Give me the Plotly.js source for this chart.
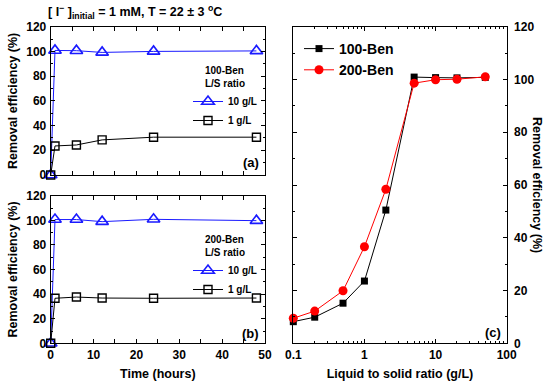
<!DOCTYPE html>
<html><head><meta charset="utf-8">
<script src="https://cdn.plot.ly/plotly-3.0.1.min.js"></script>
<style>body{margin:0}#chart{width:550px;height:387px}</style>
</head><body><div id="chart"></div>
<script>
// Panel (a) and (b): time series
const timeHours = [0, 1, 6, 12, 24, 48];
const a_10gL = [0, 100.8, 100.6, 99.2, 100.0, 100.4];
const a_1gL  = [0, 23.5, 24.3, 28.4, 30.6, 30.6];
const b_10gL = [0, 100.6, 100.6, 98.9, 100.8, 99.7];
const b_1gL  = [0, 36.6, 37.6, 36.8, 36.6, 36.8];
// Panel (c): L/S ratio
const lsRatio = [0.1, 0.2, 0.5, 1, 2, 5, 10, 20, 50];
const ben100 = [8.2, 9.9, 15.2, 23.6, 50.5, 100.9, 100.7, 100.6, 100.8];
const ben200 = [9.5, 12.2, 19.9, 36.6, 58.4, 98.6, 99.9, 100.1, 101.0];
const logTickVals = [0.1, 1, 10, 100];
const logTickText = ['0.1', '1', '10', '100'];

const FONT = 'Liberation Sans, Arial, sans-serif';
const BLUE = '#1a1aff';

function tr(x, y, name, xa, ya, legend, symbol, color, size, lw) {
  return {
    x: x, y: y, name: name, xaxis: xa, yaxis: ya, legend: legend,
    mode: 'lines+markers', cliponaxis: false,
    line: {color: color, width: 1},
    marker: {symbol: symbol, size: size, color: color, line: {color: color, width: lw}}
  };
}

const data = [
  tr(timeHours, a_10gL, '10 g/L', 'x', 'y', 'legend', 'triangle-up-open', BLUE, 11, 1.6),
  tr(timeHours, a_1gL, '1 g/L', 'x', 'y', 'legend', 'square-open', '#000', 8, 1.4),
  tr(timeHours, b_10gL, '10 g/L', 'x2', 'y2', 'legend2', 'triangle-up-open', BLUE, 11, 1.6),
  tr(timeHours, b_1gL, '1 g/L', 'x2', 'y2', 'legend2', 'square-open', '#000', 8, 1.4),
  tr(lsRatio, ben100, '100-Ben', 'x3', 'y3', 'legend3', 'square', '#000', 7, 0),
  tr(lsRatio, ben200, '200-Ben', 'x3', 'y3', 'legend3', 'circle', '#ff0000', 9, 0)
];

const tickFont = {family: FONT, size: 12, weight: 'bold', color: '#000'};
const titleFont = {family: FONT, size: 12.5, weight: 'bold', color: '#000'};
function baseAxis(extra) {
  return Object.assign({
    showline: true, linecolor: '#000', linewidth: 1, mirror: 'ticks',
    ticks: 'inside', ticklen: 4, tickwidth: 1, tickcolor: '#000',
    showgrid: false, zeroline: false, tickfont: tickFont, fixedrange: true
  }, extra);
}
const py = v => 1 - v / 387;
const px = v => v / 550;

const layout = {
  width: 550, height: 387,
  margin: {l: 0, r: 0, t: 0, b: 0},
  paper_bgcolor: '#fff', plot_bgcolor: '#fff',
  font: {family: FONT, color: '#000'},
  showlegend: true,
  xaxis: baseAxis({domain: [px(50.7), px(265)], anchor: 'y', range: [0, 50], dtick: 10,
    showticklabels: false, minor: {dtick: 5, ticks: 'inside', ticklen: 4}}),
  yaxis: baseAxis({domain: [py(175), py(26.7)], anchor: 'x', range: [0, 120], dtick: 20,
    ticklabelstandoff: 1, minor: {dtick: 10, ticks: 'inside', ticklen: 2},
    title: {text: 'Removal efficiency (%)', font: titleFont, standoff: 5}}),
  xaxis2: baseAxis({domain: [px(50.7), px(265)], anchor: 'y2', range: [0, 50], dtick: 10,
    minor: {dtick: 5, ticks: 'inside', ticklen: 4},
    title: {text: 'Time (hours)', font: titleFont, standoff: 8}}),
  yaxis2: baseAxis({domain: [py(343.3), py(195.7)], anchor: 'x2', range: [0, 120], dtick: 20,
    ticklabelstandoff: 1, minor: {dtick: 10, ticks: 'inside', ticklen: 2},
    title: {text: 'Removal efficiency (%)', font: titleFont, standoff: 5}}),
  xaxis3: baseAxis({domain: [px(293.3), px(506.7)], anchor: 'y3', type: 'log', range: [-1, 2],
    tickvals: logTickVals, ticktext: logTickText,
    minor: {ticks: 'inside', ticklen: 2, dtick: 'D1'},
    title: {text: 'Liquid to solid ratio (g/L)', font: titleFont, standoff: 8}}),
  yaxis3: baseAxis({domain: [py(343.3), py(26.7)], anchor: 'x3', side: 'right', range: [0, 120], dtick: 20,
    ticklabelstandoff: 4, minor: {dtick: 10, ticks: 'inside', ticklen: 2}}),
  legend: {x: px(262), y: py(61), xanchor: 'right', yanchor: 'top', bgcolor: 'rgba(0,0,0,0)',
    font: {family: FONT, size: 10, weight: 'bold'}, itemwidth: 30, tracegroupgap: 0,
    title: {text: '100-Ben<br>L/S ratio', side: 'top center', font: {family: FONT, size: 10, weight: 'bold'}}},
  legend2: {x: px(262), y: py(230), xanchor: 'right', yanchor: 'top', bgcolor: 'rgba(0,0,0,0)',
    font: {family: FONT, size: 10, weight: 'bold'}, itemwidth: 30, tracegroupgap: 0,
    title: {text: '200-Ben<br>L/S ratio', side: 'top center', font: {family: FONT, size: 10, weight: 'bold'}}},
  legend3: {x: px(299), y: py(33), xanchor: 'left', yanchor: 'top', bgcolor: 'rgba(0,0,0,0)',
    font: {family: FONT, size: 14, weight: 'bold'}, itemwidth: 30, tracegroupgap: 0},
  annotations: [
    {text: '[ I<sup>−</sup> ]<sub>initial</sub> = 1 mM, T = 22 ± 3 <sup>o</sup>C', xref: 'paper', yref: 'paper',
     x: px(46), y: py(12), xanchor: 'left', yanchor: 'middle', showarrow: false,
     font: {family: FONT, size: 12.5, weight: 'bold'}},
    {text: '(a)', xref: 'paper', yref: 'paper', x: px(261), y: py(163), xanchor: 'right', yanchor: 'middle',
     showarrow: false, font: {family: FONT, size: 13, weight: 'bold'}},
    {text: '(b)', xref: 'paper', yref: 'paper', x: px(261), y: py(333), xanchor: 'right', yanchor: 'middle',
     showarrow: false, font: {family: FONT, size: 13, weight: 'bold'}},
    {text: '(c)', xref: 'paper', yref: 'paper', x: px(503), y: py(332), xanchor: 'right', yanchor: 'middle',
     showarrow: false, font: {family: FONT, size: 13, weight: 'bold'}},
    {text: 'Removal efficiency (%)', xref: 'paper', yref: 'paper', x: px(537), y: py(185), textangle: 90,
     xanchor: 'center', yanchor: 'middle', showarrow: false, font: titleFont}
  ]
};

Plotly.newPlot('chart', data, layout, {displayModeBar: false, staticPlot: true});
</script></body></html>
